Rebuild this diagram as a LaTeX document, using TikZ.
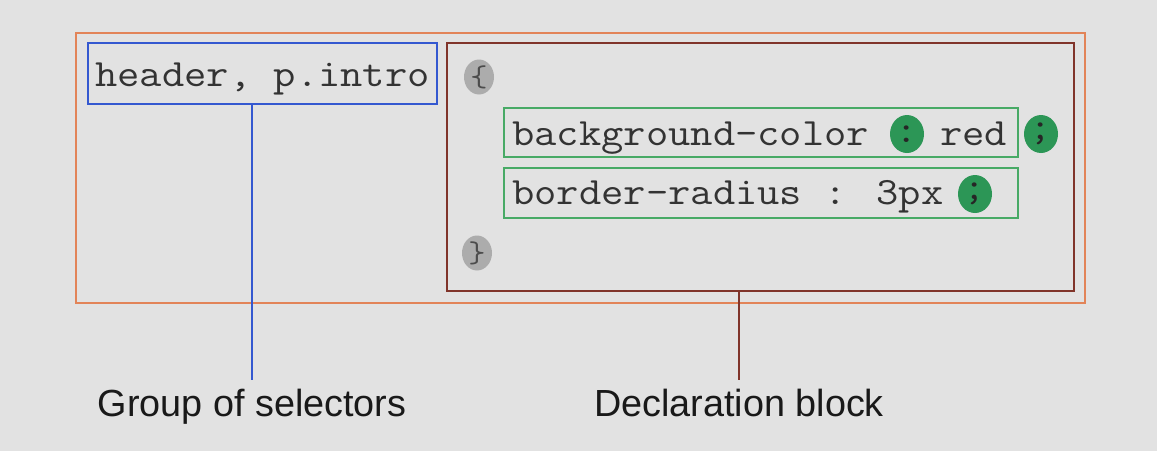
\documentclass[tikz,border=0pt]{standalone}
\usepackage{fontspec}
\setmainfont{Liberation Sans}
\newfontfamily\codefamily{Latin Modern Mono}[FakeStretch=1.12]
\usetikzlibrary{shapes.geometric}
\definecolor{cssback}{RGB}{226,226,226}
\definecolor{cssorange}{RGB}{226,132,88}
\definecolor{cssbrown}{RGB}{128,52,42}
\definecolor{cssblue}{RGB}{52,88,208}
\definecolor{cssgreen}{RGB}{72,170,102}
\definecolor{cssdot}{RGB}{44,150,86}
\definecolor{cssgray}{RGB}{172,172,172}
\newcommand{\codefont}{\fontsize{22}{26}\selectfont\codefamily}
\newcommand{\labelfont}{\fontsize{21.5}{26}\selectfont}

\begin{document}
\begin{tikzpicture}[x=0.02cm,y=-0.02cm,
    box/.style={draw,rectangle,inner sep=0pt,line width=1.2pt},
    code/.style={font=\codefont,inner sep=0pt,anchor=base west,text=black!80},
    greendot/.style={ellipse,fill=cssdot,inner sep=0pt,minimum width=0.68cm,minimum height=0.76cm,font=\codefont\bfseries,text=black!85},
    graydot/.style={ellipse,fill=cssgray,inner sep=0pt,minimum width=0.6cm,minimum height=0.7cm,font=\fontsize{17}{20}\selectfont\codefamily,text=black!70},
    caption/.style={font=\labelfont,inner sep=0pt,anchor=base,text=black!90}]
% Background
\fill[cssback] (0,0) rectangle (1157,451);

% Rule box
\node[box,draw=cssorange,minimum width=20.18cm,minimum height=5.4cm] (rule) at (580.5,168) {};

% Selectors
\node[box,draw=cssblue,minimum width=6.98cm,minimum height=1.22cm] (sel) at (262.5,73.5) {};
\node[code] (seltext) at (95,86) {header, p.intro};

% Declaration block
\node[box,draw=cssbrown,minimum width=12.54cm,minimum height=4.96cm] (decl) at (760.5,167) {};
\node[graydot] (open) at (479,77) {\{};
\node[graydot] (close) at (477,253) {\}};

% Declarations
\node[box,draw=cssgreen,minimum width=10.28cm,minimum height=0.98cm] (bgdecl) at (761,132.5) {};
\node[code] (bgprop) at (512,145) {background-color};
\node[greendot] (bgcolon) at (907,134) {:};
\node[code] (bgval) at (940,145) {red};
\node[greendot] (bgsemi) at (1041,134) {;};

\node[box,draw=cssgreen,minimum width=10.28cm,minimum height=1cm] (brdecl) at (761,193) {};
\node[code] (brtext) at (512,204) {border-radius : 3px};
\node[greendot] (brsemi) at (975,194) {;};

% Labels
\node[caption] (grp) at (252,416) {Group of selectors};
\node[caption] (blk) at (739,416) {Declaration block};
\coordinate (grptop) at ([yshift=5pt]grp.north);
\coordinate (blktop) at ([yshift=5pt]blk.north);
\draw[cssblue,line width=1.2pt] (sel.south -| grp) -- (grptop);
\draw[cssbrown,line width=1.2pt] (decl.south -| blk) -- (blktop);
\end{tikzpicture}
\end{document}
